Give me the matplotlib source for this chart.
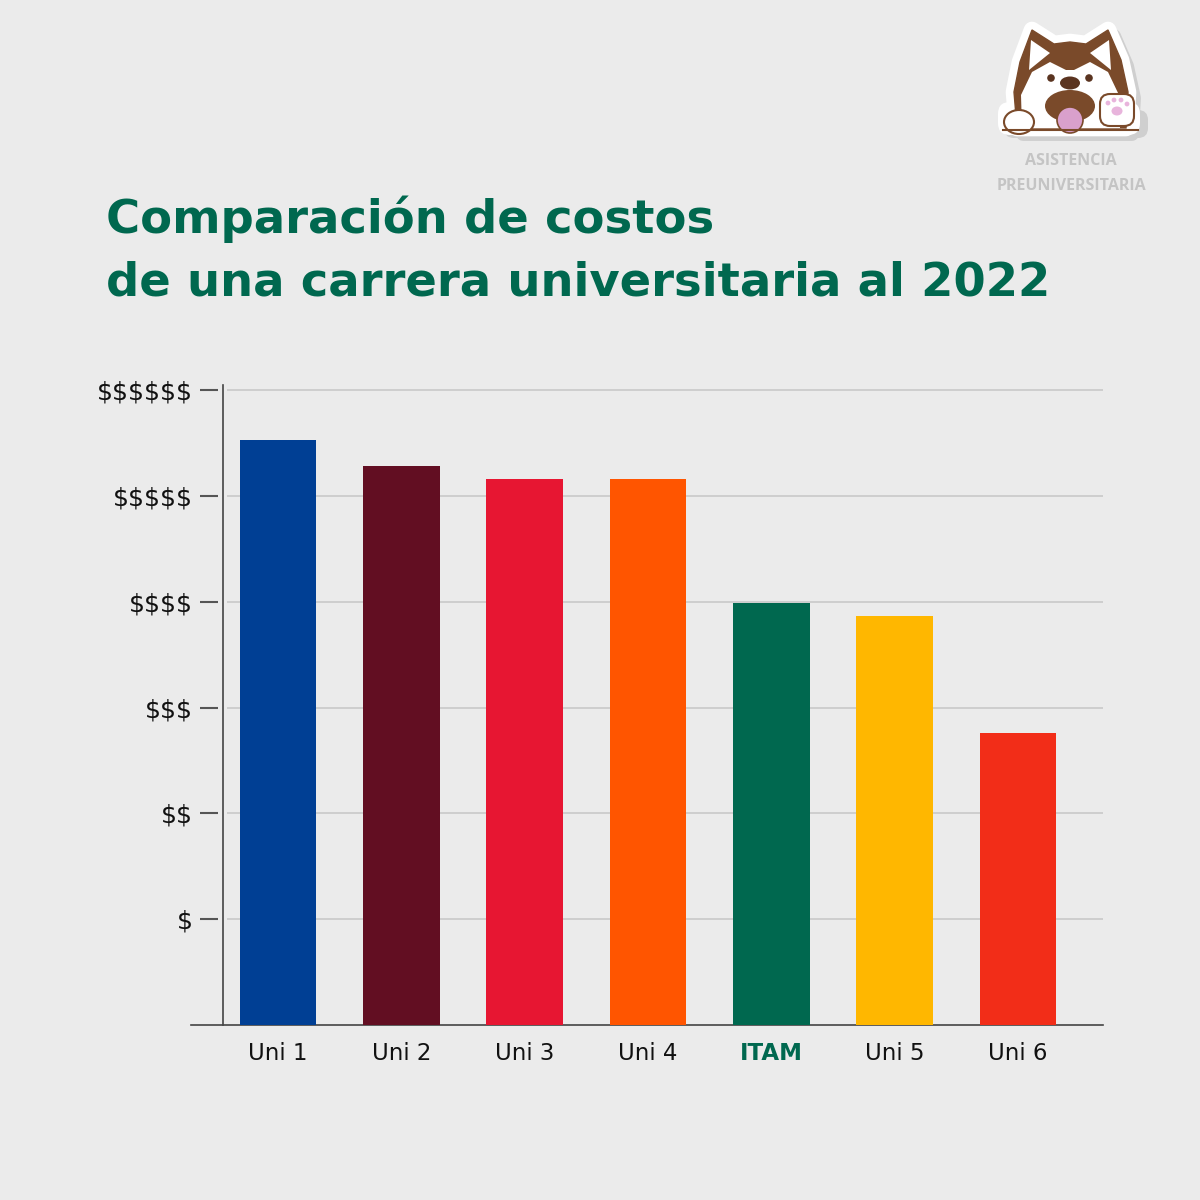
import matplotlib
matplotlib.use("Agg")
import matplotlib.pyplot as plt
from matplotlib.patches import Polygon, Ellipse, FancyBboxPatch, Circle

plt.rcParams["text.parse_math"] = False

categories = ["Uni 1", "Uni 2", "Uni 3", "Uni 4", "ITAM", "Uni 5", "Uni 6"]
values = [5.53, 5.28, 5.16, 5.16, 3.99, 3.87, 2.76]
colors = ["#003f94", "#620e22", "#e71632", "#ff5500", "#00684f", "#ffb700", "#f22d18"]
ytick_vals = [1, 2, 3, 4, 5, 6]
ytick_labels = ["$", "$$", "$$$", "$$$$", "$$$$$", "$$$$$$"]

BG = "#ebebeb"
GREEN = "#00684f"
W = H = 1200

fig = plt.figure(figsize=(12, 12), dpi=100, facecolor=BG)

def fx(px):
    return px / W

def fy(py):
    return 1 - py / H

ax_left, ax_right = 191, 1103
ax_bottom, ax_top = 1025, 385
ax = fig.add_axes([fx(ax_left), fy(ax_bottom), fx(ax_right - ax_left), (ax_bottom - ax_top) / H])
ax.set_facecolor(BG)

ax.set_ylim(0, 6.05)
spacing = 123.3
x0 = -(278 - ax_left) / spacing
x1 = 6 + (ax_right - 1018) / spacing
ax.set_xlim(x0, x1)

xpos = list(range(len(categories)))
ax.bar(xpos, values, width=0.62, color=colors, zorder=3)

for s in ["top", "right"]:
    ax.spines[s].set_visible(False)
spine_x = x0 + (223 - ax_left) / spacing
ax.spines["left"].set_position(("data", spine_x))
ax.spines["left"].set_color("#444444")
ax.spines["left"].set_linewidth(1.2)
ax.spines["bottom"].set_color("#444444")
ax.spines["bottom"].set_linewidth(1.2)
ax.spines["left"].set_bounds(0, 6.05)

grid_start = x0 + (227 - ax_left) / spacing
ax.hlines(ytick_vals, grid_start, x1, colors="#c9c9c9", linewidth=1.2, zorder=1)
tick_a = x0 + (200 - ax_left) / spacing
tick_b = x0 + (218 - ax_left) / spacing
ax.hlines(ytick_vals, tick_a, tick_b, colors="#555555", linewidth=1.5, zorder=2, clip_on=False)

ax.set_yticks(ytick_vals)
ax.set_yticklabels(ytick_labels, fontsize=18, family="DejaVu Sans", color="#111111")
ax.tick_params(axis="y", length=0, pad=(223 - 193) * 0.72)
ax.set_xticks(xpos)
ax.set_xticklabels(categories, fontsize=16.5, family="DejaVu Sans", color="#111111")
ax.tick_params(axis="x", length=0, pad=12)
for lbl in ax.get_xticklabels():
    if lbl.get_text() == "ITAM":
        lbl.set_color(GREEN)
        lbl.set_fontweight("bold")

fig.text(fx(106), fy(233), "Comparación de costos", fontsize=33.5, fontweight="bold",
         color=GREEN, family="DejaVu Sans", ha="left", va="baseline")
fig.text(fx(106), fy(296), "de una carrera universitaria al 2022", fontsize=33.5, fontweight="bold",
         color=GREEN, family="DejaVu Sans", ha="left", va="baseline")

fig.text(fx(1071), fy(161), "ASISTENCIA", fontsize=11.5, fontweight="bold", color="#c4c4c4",
         family="Open Sans", ha="center", va="center")
fig.text(fx(1071), fy(186), "PREUNIVERSITARIA", fontsize=11.5, fontweight="bold", color="#c4c4c4",
         family="Open Sans", ha="center", va="center")

lx0, ly0, lw, lh = 990, 18, 170, 127
la = fig.add_axes([fx(lx0), fy(ly0 + lh), lw / W, lh / H])
la.set_xlim(lx0, lx0 + lw)
la.set_ylim(ly0 + lh, ly0)
la.axis("off")
BROWN = "#7a4a2a"
head = [(1017, 128), (1014, 92), (1020, 62), (1032, 30), (1054, 44), (1070, 42),
        (1086, 44), (1108, 30), (1121, 60), (1128, 92), (1126, 128)]
shadow = [(x + 6, y + 6) for x, y in head]
la.add_patch(Polygon(shadow, closed=True, fc="#cfcfcf", ec="#cfcfcf", lw=10, joinstyle="round"))
la.add_patch(FancyBboxPatch((1004, 110), 144, 28, boxstyle="round,pad=0,rounding_size=10", fc="#cfcfcf", ec="none"))
la.add_patch(Polygon(head, closed=True, fc="white", ec="white", lw=12, joinstyle="round"))
la.add_patch(FancyBboxPatch((998, 102), 142, 33, boxstyle="round,pad=0,rounding_size=12", fc="white", ec="none"))
la.add_patch(Polygon(head, closed=True, fc=BROWN, ec=BROWN, lw=1))
la.add_patch(Polygon([(1031, 40), (1050, 53), (1029, 70)], fc="white", ec="none"))
la.add_patch(Polygon([(1109, 40), (1090, 53), (1111, 70)], fc="white", ec="none"))
face = [(1022, 128), (1021, 95), (1032, 72), (1050, 62), (1066, 70), (1074, 70), (1090, 62),
        (1108, 72), (1119, 95), (1120, 128)]
la.add_patch(Polygon(face, closed=True, fc="white", ec="none"))
la.add_patch(Polygon([(1068, 50), (1072, 50), (1071, 68), (1069, 68)], fc=BROWN, ec="none"))
la.add_patch(Ellipse((1070, 106), 50, 32, fc=BROWN, ec="none"))
la.add_patch(Ellipse((1070, 120), 26, 26, fc="#d9a0cc", ec=BROWN, lw=1.2))
la.add_patch(Ellipse((1070, 83), 20, 13, fc="#5a3420", ec="none"))
la.add_patch(Circle((1051, 78), 3.8, fc="#5a3420", ec="none"))
la.add_patch(Circle((1089, 78), 3.8, fc="#5a3420", ec="none"))
la.add_patch(Ellipse((1019, 122), 30, 24, fc="white", ec=BROWN, lw=1.5))
la.add_patch(FancyBboxPatch((1100, 94), 34, 32, boxstyle="round,pad=0,rounding_size=10", fc="white", ec=BROWN, lw=1.5))
la.add_patch(Ellipse((1117, 111), 11, 9, fc="#e8b4dc", ec="none"))
for px, py in [(1108, 103), (1114, 100), (1121, 100), (1127, 104)]:
    la.add_patch(Circle((px, py), 2.4, fc="#e8b4dc", ec="none"))
la.plot([1003, 1138], [130, 130], color=BROWN, lw=1.5)
la.add_patch(Polygon([(990, 131), (1160, 131), (1160, 145), (990, 145)], fc="none", ec="none"))

fig.savefig("out.png", dpi=100, facecolor=BG)
